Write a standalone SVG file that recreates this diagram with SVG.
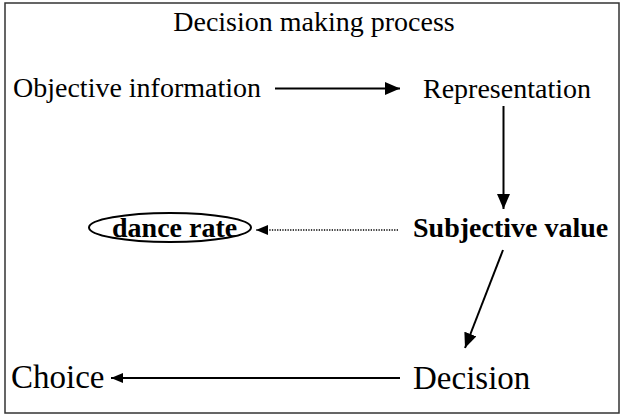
<svg xmlns="http://www.w3.org/2000/svg" width="621" height="415" viewBox="0 0 621 415">
<style>
text{font-family:"Liberation Serif","Times New Roman",serif;fill:#000}
.t{font-size:28px}
.b{font-size:28px;font-weight:bold}
.l{font-size:33px}
.c{stroke:#000;stroke-width:2;fill:none}
.d{stroke:#000;stroke-width:1.3;fill:none;stroke-dasharray:1.3 1.3}
</style>
<defs>
<marker id="ah" markerWidth="15" markerHeight="13" refX="15" refY="6.5" orient="auto" markerUnits="userSpaceOnUse">
<path d="M0,0 L15,6.5 L0,13 Z" fill="#000"/>
</marker>
<marker id="ahs" markerWidth="12" markerHeight="10" refX="12" refY="5" orient="auto" markerUnits="userSpaceOnUse">
<path d="M0,0 L12,5 L0,10 Z" fill="#000"/>
</marker>
</defs>
<rect x="5" y="3" width="614" height="410" fill="#fff" stroke="#333" stroke-width="1.5"/>
<g id="title"><text class="t" x="314" y="31" text-anchor="middle">Decision making process</text></g>
<g id="objective"><text class="t" x="13" y="97">Objective information</text></g>
<g id="representation"><text class="t" x="423" y="98">Representation</text></g>
<g id="subjective"><text class="b" x="413" y="237">Subjective value</text></g>
<g id="dance">
<ellipse cx="170" cy="227.5" rx="81" ry="14.5" fill="none" stroke="#000" stroke-width="2"/>
<text class="b" x="112" y="237">dance rate</text>
</g>
<g id="decision"><text class="l" x="413" y="389">Decision</text></g>
<g id="choice"><text class="l" x="11" y="388">Choice</text></g>
<g id="connectors">
<line class="c" x1="275" y1="88.5" x2="400" y2="88.5" marker-end="url(#ah)"/>
<line class="c" x1="503.5" y1="106" x2="503.5" y2="209" marker-end="url(#ah)"/>
<line class="d" x1="398" y1="230" x2="256" y2="230" marker-end="url(#ahs)"/>
<line class="c" x1="503" y1="250" x2="465" y2="348" marker-end="url(#ah)"/>
<line class="c" x1="400" y1="378" x2="111" y2="378" marker-end="url(#ahs)"/>
</g>
</svg>
